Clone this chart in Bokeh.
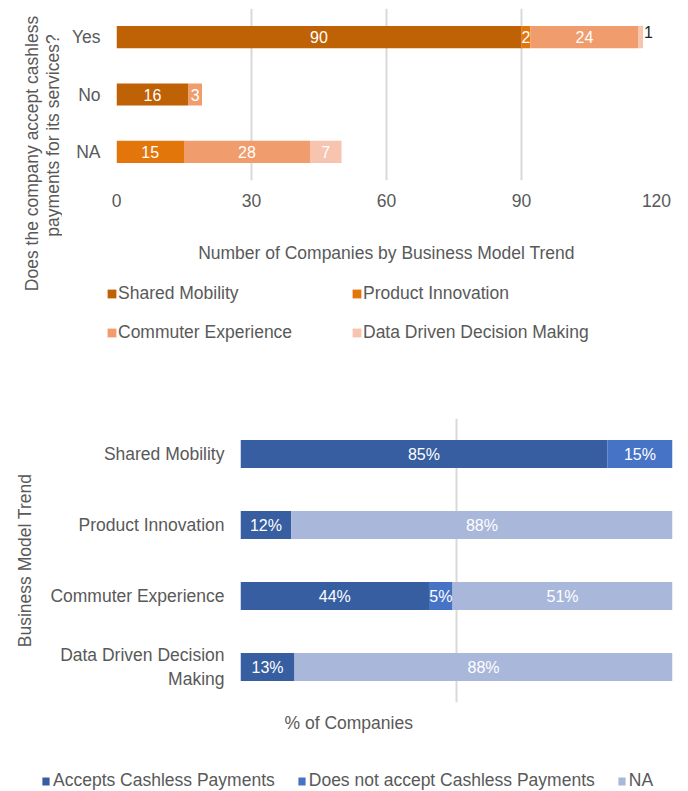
import math
from bokeh.plotting import figure
from bokeh.models import (FactorRange, Range1d, Legend, LegendItem, ColumnDataSource,
                          FixedTicker, Title, Label)
from bokeh.layouts import column, row
from bokeh.embed import file_html
from bokeh.resources import INLINE
from bokeh.core.properties import value

# ---------------- data ----------------
answers = ["Yes", "No", "NA"]
trends = ["Shared Mobility", "Product Innovation", "Commuter Experience",
          "Data Driven Decision Making"]
trend_ticks = ["Shared Mobility", "Product Innovation", "Commuter Experience",
               "Data Driven Decision\nMaking"]
# companies per answer (Yes, No, NA) for each business model trend
shared_mobility = [90, 16, 0]
product_innovation = [2, 0, 15]
commuter_experience = [24, 3, 28]
data_driven = [1, 0, 7]
count_ticks = [0, 30, 60, 90, 120]
pct_ticks = [0, 50, 100]
status_labels = ["Accepts Cashless Payments", "Does not accept Cashless Payments", "NA"]

trend_colors = ["#BF6105", "#E3760B", "#F19C6C", "#F6C4AF"]
status_colors = ["#365EA1", "#4673C5", "#A9B7DB"]
FONT = "Liberation Sans"
GREY = "#595959"
FS = "17.5px"

series = [shared_mobility, product_innovation, commuter_experience, data_driven]
keys = ["sm", "pi", "ce", "dd"]


def style_axes(p):
    for ax in p.axis:
        ax.axis_line_color = None
        ax.major_tick_line_color = None
        ax.minor_tick_line_color = None
        ax.major_label_text_font = FONT
        ax.major_label_text_font_size = FS
        ax.major_label_text_color = GREY
        ax.axis_label_text_font = FONT
        ax.axis_label_text_font_size = FS
        ax.axis_label_text_color = GREY
        ax.axis_label_text_font_style = "normal"
    p.ygrid.visible = False
    p.xgrid.grid_line_color = "#D9D9D9"
    p.xgrid.grid_line_width = 2
    p.outline_line_color = None


def blank_fig(w, h, x_range=None, y_range=None):
    f = figure(width=w, height=h,
               x_range=x_range if x_range is not None else Range1d(0, w),
               y_range=y_range if y_range is not None else Range1d(0, h),
               x_axis_location=None, y_axis_location=None, output_backend="svg",
               toolbar_location=None, min_border=0, outline_line_color=None,
               frame_align=False)
    f.grid.visible = False
    return f


def add_legend(f, labels, renderers, **kw):
    leg = Legend(items=[LegendItem(label=l, renderers=[r]) for l, r in zip(labels, renderers)],
                 padding=0, margin=0, label_text_font=FONT,
                 label_text_font_size=FS, label_text_color=GREY,
                 border_line_color=None, background_fill_alpha=0,
                 inactive_fill_alpha=0, **kw)
    f.add_layout(leg, "center")
    return f


# ---------------- chart 1: counts ----------------
src1 = ColumnDataSource(dict(answer=answers, **{k: s for k, s in zip(keys, series)}))
p1 = figure(width=626, height=272, y_range=FactorRange(factors=answers[::-1]),
            x_range=Range1d(0, 120), output_backend="svg", toolbar_location=None,
            min_border_left=54, min_border_right=32, min_border_top=8,
            min_border_bottom=92, frame_align=False)
p1.hbar_stack(keys, y="answer", height=0.386, fill_color=trend_colors,
              line_color=None, source=src1)

inx, iny, intx, outx, outy, outt = [], [], [], [], [], []
for i, a in enumerate(answers):
    left = 0
    for s in series:
        v = s[i]
        if v > 0:
            if v >= 2:
                inx.append(left + v / 2); iny.append(a); intx.append(str(v))
            else:
                outx.append(left + v); outy.append(a); outt.append(str(v))
        left += v
p1.text(x=inx, y=iny, text=intx, text_color="white", text_align="center",
        text_baseline="middle", text_font=value(FONT), text_font_size="16px")
p1.text(x=outx, y=outy, text=outt, text_color="#262626", text_align="left",
        text_baseline="middle", x_offset=1, y_offset=-5,
        text_font=value(FONT), text_font_size="16px")

p1.xaxis.ticker = FixedTicker(ticks=count_ticks)
p1.xgrid.ticker = FixedTicker(ticks=count_ticks)
p1.xaxis.axis_label = "Number of Companies by Business Model Trend"
style_axes(p1)
p1.xaxis.major_label_standoff = 7
p1.xaxis.axis_label_standoff = 33
p1.yaxis.major_label_standoff = 10

# rotated y-axis title of chart 1 (own narrow panel on the left)
tfig = blank_fig(62, 350)
for txt, xc, yc in (("Does the company accept cashless", 31, 350 - 153),
                    ("payments for its services?", 52, 350 - 135)):
    tfig.add_layout(Label(x=xc, y=yc, text=txt, angle=math.pi / 2,
                          text_align="center", text_baseline="middle",
                          text_font=FONT, text_font_size=FS, text_color=GREY))

# legend of chart 1: hidden copies of the stacked bars serve as legend glyphs
lf1 = blank_fig(626, 78, x_range=Range1d(0, 1), y_range=FactorRange(factors=answers))
lr1 = lf1.hbar_stack(keys, y="answer", height=0.386, fill_color=trend_colors,
                     line_color=None, source=src1, visible=False)
order = [0, 2, 1, 3]  # column-major fill -> rows: SM, PI / CE, DDDM
add_legend(lf1, [trends[k] for k in order], [lr1[k] for k in order], ncols=2,
           location=(44, 7), glyph_width=11, glyph_height=11, label_standoff=1,
           label_width=215, spacing=18)

# ---------------- chart 2: shares ----------------
totals = [sum(s) for s in series]
pct_yes = [s[0] / t * 100 for s, t in zip(series, totals)]
pct_no = [s[1] / t * 100 for s, t in zip(series, totals)]
pct_na = [s[2] / t * 100 for s, t in zip(series, totals)]
src2 = ColumnDataSource(dict(trend=trend_ticks, yes=pct_yes, no=pct_no, na=pct_na))
p2 = figure(width=688, height=392, y_range=FactorRange(factors=trend_ticks[::-1]),
            x_range=Range1d(0, 100), output_backend="svg", toolbar_location=None,
            min_border_left=240, min_border_right=16, min_border_top=68,
            min_border_bottom=40, frame_align=False)
p2.hbar_stack(["yes", "no", "na"], y="trend", height=0.394,
              fill_color=status_colors, line_color=None, source=src2)

px, py, pt = [], [], []
for j, t in enumerate(trend_ticks):
    left = 0
    for vals in (pct_yes, pct_no, pct_na):
        v = vals[j]
        if v > 0:
            px.append(left + v / 2); py.append(t); pt.append(f"{math.floor(v + 0.5)}%")
        left += v
p2.text(x=px, y=py, text=pt, text_color="white", text_align="center",
        text_baseline="middle", text_font=value(FONT), text_font_size="16px")

p2.xaxis.ticker = FixedTicker(ticks=pct_ticks)
p2.xgrid.ticker = FixedTicker(ticks=pct_ticks)
style_axes(p2)
p2.xaxis.visible = False
p2.yaxis.axis_label = "Business Model Trend"
p2.yaxis.major_label_standoff = 10
p2.yaxis.axis_label_standoff = 12

t2 = Title(text="% of Companies", align="left", offset=44, text_font=FONT,
           text_font_size=FS, text_color=GREY, text_font_style="normal", standoff=16)
p2.add_layout(t2, "below")

lf2 = blank_fig(688, 49, x_range=Range1d(0, 1), y_range=FactorRange(factors=trend_ticks))
lr2 = lf2.hbar_stack(["yes", "no", "na"], y="trend", height=0.394,
                     fill_color=status_colors, line_color=None, source=src2,
                     visible=False)
add_legend(lf2, status_labels, lr2, orientation="horizontal", location=(41, 0),
           glyph_width=9, glyph_height=10, label_standoff=3, spacing=22)

layout = column(row(tfig, column(p1, lf1, spacing=0), spacing=0), p2, lf2, spacing=0)
open("out.html", "w").write(file_html(layout, INLINE))
